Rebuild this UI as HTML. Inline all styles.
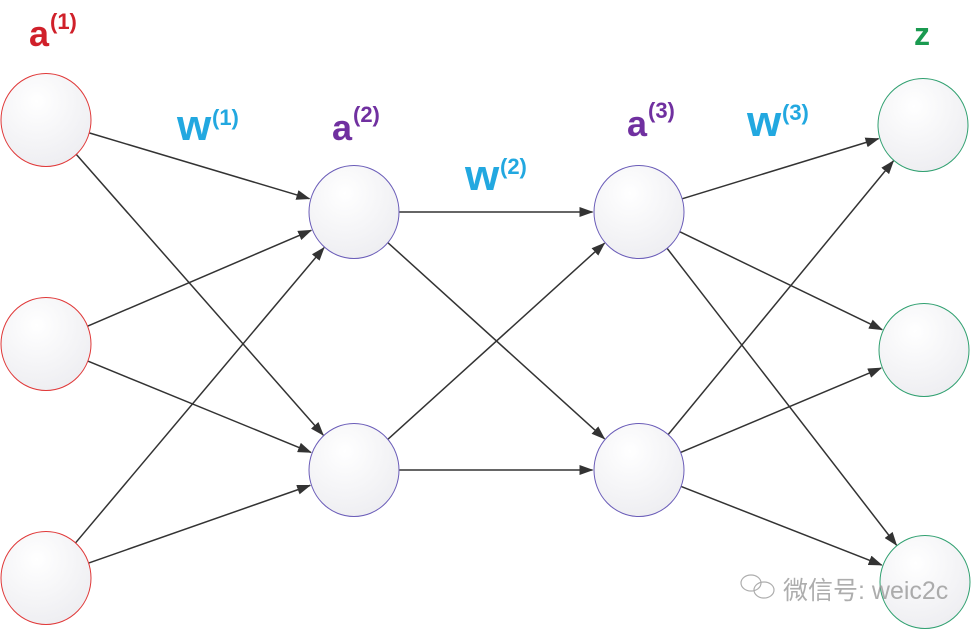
<!DOCTYPE html>
<html><head><meta charset="utf-8"><style>
html,body{margin:0;padding:0;background:#fff;width:974px;height:633px;overflow:hidden}
svg{display:block}
.t{font-family:"Liberation Sans","DejaVu Sans",sans-serif;font-weight:bold}
</style></head><body>
<svg id="s" width="974" height="633" viewBox="0 0 974 633" xmlns="http://www.w3.org/2000/svg">
<defs>
<radialGradient id="g" cx="0.4" cy="0.3" r="0.8"><stop offset="0" stop-color="#ffffff"/><stop offset="1" stop-color="#ececf0"/></radialGradient>
<marker id="ar" markerWidth="14" markerHeight="10" refX="13" refY="5" orient="auto" markerUnits="userSpaceOnUse"><path d="M0,0 L14,5 L0,10 z" fill="#333"/></marker>
</defs>
<g id="lines" stroke="#333" stroke-width="1.5" fill="none"></g>
<g id="nodes"></g>
<text class="t" x="29" y="46" font-size="36" fill="#d0202a">a</text><text class="t" x="50" y="29" font-size="22" fill="#d0202a">(1)</text>
<text class="t" x="177" y="140" font-size="44" fill="#22a8e0">w</text><text class="t" x="212" y="125" font-size="22" fill="#22a8e0">(1)</text>
<text class="t" x="332" y="140" font-size="36" fill="#7030a0">a</text><text class="t" x="353" y="122" font-size="22" fill="#7030a0">(2)</text>
<text class="t" x="465" y="190" font-size="44" fill="#22a8e0">w</text><text class="t" x="500" y="174" font-size="22" fill="#22a8e0">(2)</text>
<text class="t" x="627" y="136" font-size="36" fill="#7030a0">a</text><text class="t" x="648" y="118" font-size="22" fill="#7030a0">(3)</text>
<text class="t" x="747" y="136" font-size="44" fill="#22a8e0">w</text><text class="t" x="782" y="120" font-size="22" fill="#22a8e0">(3)</text>
<text class="t" x="914" y="45" font-size="32" fill="#1a9a50">z</text>
<g opacity="0.6" stroke="#777" fill="none" stroke-width="1.2">
<ellipse cx="751" cy="583" rx="10" ry="8"/><ellipse cx="764" cy="590" rx="10" ry="8"/>
</g>
<text x="783" y="599" font-size="25" fill="#999" opacity="0.8" font-family="'Liberation Sans','Noto Sans CJK SC',sans-serif">微信号: weic2c</text>
</svg>
<script>
var N={a:[[46,120,'#e03838'],[46,344,'#e03838'],[46,578,'#e03838']],
b:[[354,212,'#6a5cb8'],[354,470,'#6a5cb8']],
c:[[639,212,'#6a5cb8'],[639,470,'#6a5cb8']],
d:[[923,125,'#30a070'],[924,350,'#30a070'],[925,582,'#30a070']]};
var R=45.5,ns='http://www.w3.org/2000/svg';
function line(p,q){var dx=q[0]-p[0],dy=q[1]-p[1],l=Math.hypot(dx,dy),ux=dx/l,uy=dy/l;
var e=document.createElementNS(ns,'line');
e.setAttribute('x1',p[0]+ux*R);e.setAttribute('y1',p[1]+uy*R);
e.setAttribute('x2',q[0]-ux*(R+1));e.setAttribute('y2',q[1]-uy*(R+1));
e.setAttribute('marker-end','url(#ar)');document.getElementById('lines').appendChild(e);}
[['a','b'],['b','c'],['c','d']].forEach(function(pr){N[pr[0]].forEach(function(p){N[pr[1]].forEach(function(q){line(p,q);});});});
for(var k in N)N[k].forEach(function(p){var c=document.createElementNS(ns,'ellipse');
c.setAttribute('cx',p[0]);c.setAttribute('cy',p[1]);c.setAttribute('rx',45);c.setAttribute('ry',46.5);
c.setAttribute('fill','url(#g)');c.setAttribute('stroke',p[2]);c.setAttribute('stroke-width','1');
document.getElementById('nodes').appendChild(c);});
</script>
</body></html>
